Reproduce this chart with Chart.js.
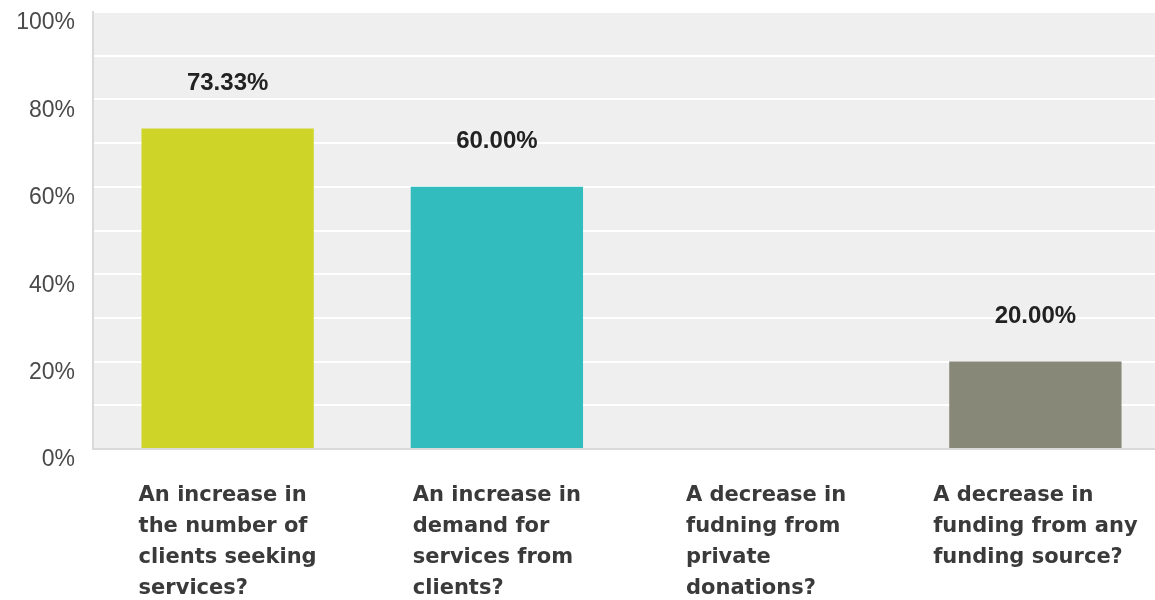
<!DOCTYPE html>
<html>
<head>
<meta charset="utf-8">
<script src="https://cdn.jsdelivr.net/npm/chart.js@4.4.1/dist/chart.umd.min.js"></script>
<style>
  html, body { margin: 0; padding: 0; background: #ffffff; overflow: hidden; }
  #wrap { width: 1175px; height: 600px; }
</style>
</head>
<body>
<div id="wrap"><canvas id="chart" width="1175" height="600"></canvas></div>
<script>
// ── Data ────────────────────────────────────────────────────────────────────
const categories = [
    ['An increase in', 'the number of', 'clients seeking', 'services?'],
    ['An increase in', 'demand for', 'services from', 'clients?'],
    ['A decrease in', 'fudning from', 'private', 'donations?'],
    ['A decrease in', 'funding from any', 'funding source?'],
];
const values = [73.33, 60.00, 0, 20.00];
const yTickValues = [0, 20, 40, 60, 80, 100];

const BAR_COLORS = ['#cfd428', '#33bcbe', '#a0a0a0', '#888878'];
const PLOT_BG = '#efefef';
const AXIS_LINE = '#dadada';

// Grey panel behind the plot area.
const plotBackground = {
    id: 'plotBackground',
    beforeDraw(chart) {
        const { ctx, chartArea: a } = chart;
        ctx.save();
        ctx.fillStyle = PLOT_BG;
        ctx.fillRect(a.left, a.top, a.right - a.left, a.bottom - a.top);
        ctx.restore();
    },
};

// Percent labels above each non-zero bar.
const valueLabels = {
    id: 'valueLabels',
    afterDatasetsDraw(chart) {
        const { ctx } = chart;
        const meta = chart.getDatasetMeta(0);
        ctx.save();
        ctx.font = 'bold 24px "Liberation Sans", Arial, sans-serif';
        ctx.fillStyle = '#222222';
        ctx.textAlign = 'center';
        ctx.textBaseline = 'middle';
        meta.data.forEach((bar, i) => {
            if (!values[i]) return;
            ctx.fillText(values[i].toFixed(2) + '%', bar.x, bar.y - 45);
        });
        ctx.restore();
    },
};

// Category labels: a left-aligned block of lines centred on each category.
const categoryLabels = {
    id: 'categoryLabels',
    afterDraw(chart) {
        const { ctx } = chart;
        const x = chart.scales.x;
        ctx.save();
        ctx.font = 'bold 21px "DejaVu Sans", Verdana, sans-serif';
        ctx.fillStyle = '#3a3a3a';
        ctx.textAlign = 'left';
        ctx.textBaseline = 'middle';
        categories.forEach((lines, i) => {
            const cx = x.getPixelForValue(i);
            const w = Math.max(...lines.map(l => ctx.measureText(l).width));
            lines.forEach((line, j) => {
                ctx.fillText(line, cx - w / 2, x.top + 47 + j * 31);
            });
        });
        ctx.restore();
    },
};

new Chart(document.getElementById('chart'), {
    type: 'bar',
    data: {
        labels: categories,
        datasets: [{
            data: values,
            backgroundColor: BAR_COLORS,
            borderWidth: 0,
            barPercentage: 0.64,
            categoryPercentage: 1.0,
        }],
    },
    options: {
        responsive: false,
        animation: false,
        layout: { padding: { top: 12, right: 5, left: 0, bottom: 0 } },
        plugins: { legend: { display: false }, tooltip: { enabled: false } },
        scales: {
            x: {
                grid: { display: false, drawTicks: false },
                border: { color: AXIS_LINE, width: 2 },
                ticks: { display: false },
                afterFit: s => { s.height = 151; },
            },
            y: {
                min: 0,
                max: 100,
                grid: { color: '#ffffff', lineWidth: 2, drawTicks: false },
                border: { color: AXIS_LINE, width: 2 },
                ticks: {
                    stepSize: 10,
                    padding: 18,
                    labelOffset: 11,
                    color: '#4a4a4a',
                    font: { family: '"Liberation Sans", Arial, sans-serif', size: 23 },
                    callback: v => (yTickValues.includes(v) ? v + '%' : ''),
                },
                afterFit: s => {
                    s.width = 93;
                    s.paddingTop = 0;
                    s.paddingBottom = 0;
                },
            },
        },
    },
    plugins: [plotBackground, valueLabels, categoryLabels],
});
</script>
</body>
</html>
